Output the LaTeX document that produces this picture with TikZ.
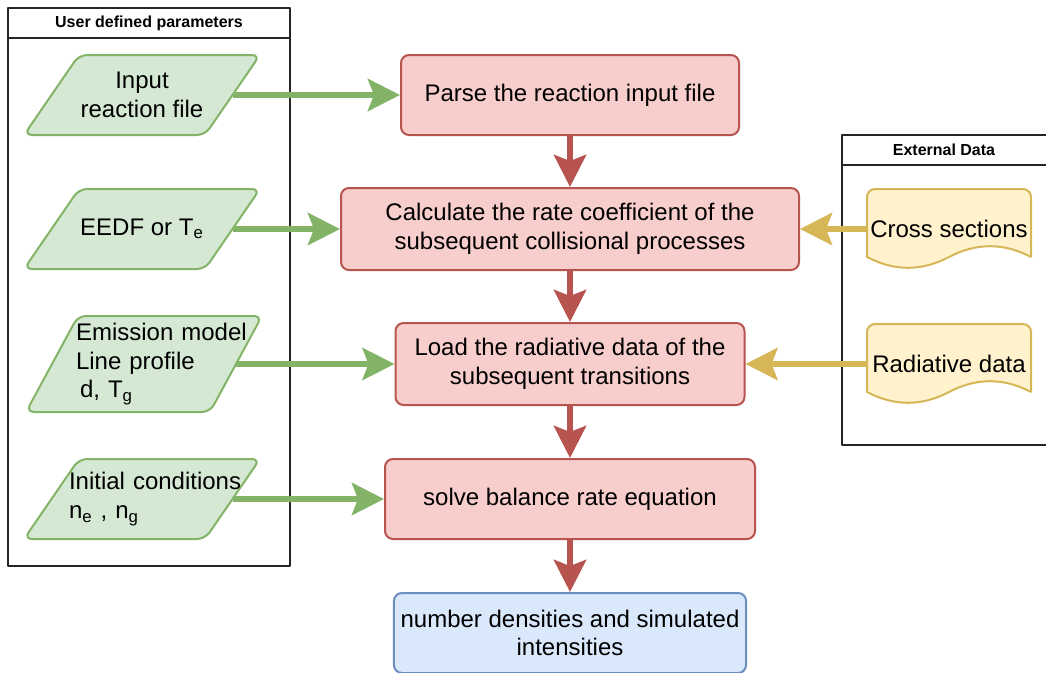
\documentclass[tikz,border=0pt]{standalone}
\usepackage{fontspec}
\setmainfont{Liberation Sans}
\usetikzlibrary{arrows.meta}

\definecolor{greenfill}{HTML}{D5E8D4}
\definecolor{greenline}{HTML}{82B366}
\definecolor{redfill}{HTML}{F8CECC}
\definecolor{redline}{HTML}{B85450}
\definecolor{yellowfill}{HTML}{FFF2CC}
\definecolor{yellowline}{HTML}{D6B656}
\definecolor{bluefill}{HTML}{DAE8FC}
\definecolor{blueline}{HTML}{6C8EBF}

\begin{document}
\begin{tikzpicture}[>={Stealth[length=16bp,width=16bp,inset=3bp]},line join=bevel,
  every node/.style={font=\fontsize{12bp}{14.4bp}\selectfont},
  lane/.style={draw=black!85,line width=0.6bp},
  lanetitle/.style={font=\bfseries\fontsize{8bp}{9.6bp}\selectfont},
  datashape/.style={draw=greenline,fill=greenfill,line width=1bp,rounded corners=4bp},
  datain/.style={rectangle,minimum width=90.5bp,minimum height=40bp,inner sep=0bp,align=center},
  process/.style={rectangle,rounded corners=4bp,draw=redline,fill=redfill,line width=1bp,
    minimum height=40bp,align=center},
  outcome/.style={process,draw=blueline,fill=bluefill},
  docline/.style={draw=yellowline,fill=yellowfill,line width=1bp},
  docnode/.style={rectangle,minimum width=82bp,minimum height=40bp,inner sep=1bp},
  flowin/.style={greenline,line width=3bp},
  flowdown/.style={redline,line width=3bp},
  flowext/.style={yellowline,line width=3bp},
]
\useasboundingbox (0bp,0bp) rectangle (523bp,-336.5bp);
%%
\draw [lane] (4bp,-4bp) rectangle (145bp,-283bp);
\draw [lane] (4bp,-19bp) -- (145bp,-19bp);
\node (lane_user) at (74.5bp,-11.5bp) [lanetitle] {User defined parameters};
\draw [lane] (421bp,-67.5bp) rectangle (524bp,-222.5bp);
\draw [lane] (421bp,-82.5bp) -- (524bp,-82.5bp);
\node (lane_ext) at (472bp,-75bp) [lanetitle] {External Data};
%
\draw [datashape] (12bp,-67.5bp) -- (39.5bp,-27.5bp) -- (130bp,-27.5bp) -- (102.5bp,-67.5bp) -- cycle;
\node (input_file) at (71bp,-47.5bp) [datain] {Input\\reaction file};
\draw [datashape] (12bp,-134.5bp) -- (39.5bp,-94.5bp) -- (130bp,-94.5bp) -- (102.5bp,-134.5bp) -- cycle;
\node (eedf) at (71bp,-114.5bp) [datain] {EEDF or T\textsubscript{e}};
\draw [datashape] (13bp,-206bp) -- (39bp,-158bp) -- (131bp,-158bp) -- (105bp,-206bp) -- cycle;
\node (emission) at (72bp,-182bp) [datain,minimum width=92bp,minimum height=48bp,
  inner xsep=12bp,text width=68bp,align=left]
  {\mbox{Emission model}\\\mbox{Line profile}\\\mbox{\hspace*{2bp}d, T\textsubscript{g}}};
\draw [datashape] (12bp,-269.5bp) -- (39.5bp,-229.5bp) -- (130bp,-229.5bp) -- (102.5bp,-269.5bp) -- cycle;
\node (initial) at (71bp,-249.5bp) [datain,inner xsep=8.75bp,text width=73bp,align=left]
  {\mbox{Initial conditions}\\\mbox{n\textsubscript{e} , n\textsubscript{g}}};
%
\node (parse) at (285bp,-47.5bp) [process,minimum width=169bp] {Parse the reaction input file};
\node (calc) at (285bp,-114.5bp) [process,minimum width=229bp,minimum height=41bp]
  {Calculate the rate coefficient of the\\subsequent collisional processes};
\node (load) at (285bp,-182bp) [process,minimum width=174.5bp,minimum height=41bp]
  {Load the radiative data of the\\subsequent transitions};
\node (solve) at (285bp,-249.5bp) [process,minimum width=185bp] {solve balance rate equation};
\node (result) at (285bp,-316.5bp) [outcome,minimum width=176bp]
  {number densities and simulated\\intensities};
%
\draw [docline] (433.5bp,-128.5bp) [rounded corners=4bp] -- (433.5bp,-94.5bp) -- (515.5bp,-94.5bp)
  [sharp corners] -- (515.5bp,-128.5bp)
  .. controls (501.83bp,-121.3bp) and (488.17bp,-121.3bp) .. (474.5bp,-128.5bp)
  .. controls (460.83bp,-135.7bp) and (447.17bp,-135.7bp) .. (433.5bp,-128.5bp) -- cycle;
\node (cross) at (474.5bp,-114.5bp) [docnode] {Cross sections};
\draw [docline] (433.5bp,-196bp) [rounded corners=4bp] -- (433.5bp,-162bp) -- (515.5bp,-162bp)
  [sharp corners] -- (515.5bp,-196bp)
  .. controls (501.83bp,-188.8bp) and (488.17bp,-188.8bp) .. (474.5bp,-196bp)
  .. controls (460.83bp,-203.2bp) and (447.17bp,-203.2bp) .. (433.5bp,-196bp) -- cycle;
\node (radiative) at (474.5bp,-182bp) [docnode] {Radiative data};
%
\draw [flowin,->] (input_file) -- (parse);
\draw [flowin,->] (eedf) -- (calc);
\draw [flowin,->] (emission) -- (load);
\draw [flowin,->] (initial) -- (solve);
\draw [flowdown,->] (parse) -- (calc);
\draw [flowdown,->] (calc) -- (load);
\draw [flowdown,->] (load) -- (solve);
\draw [flowdown,->] (solve) -- (result);
\draw [flowext,->] (cross) -- (calc);
\draw [flowext,->] (radiative) -- (load);
%
\end{tikzpicture}
\end{document}
